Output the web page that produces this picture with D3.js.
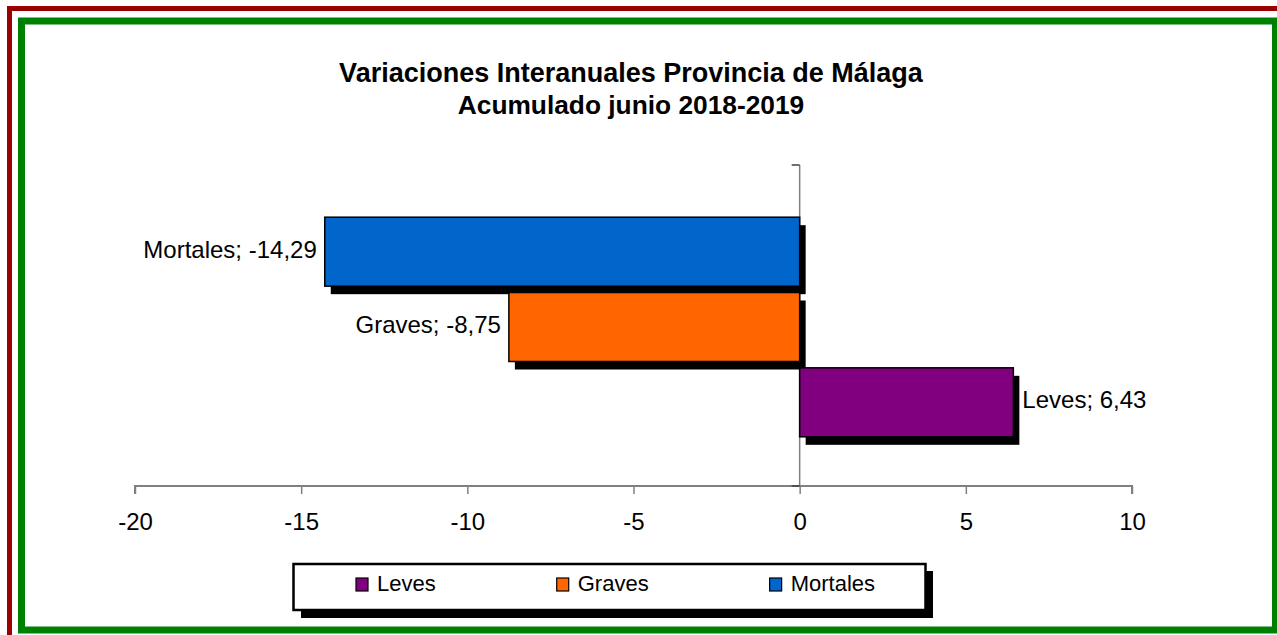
<!DOCTYPE html>
<html><head><meta charset="utf-8">
<script src="https://cdn.jsdelivr.net/npm/d3@7"></script>
<style>html,body{margin:0;padding:0;background:#fff;}svg{display:block;font-family:"Liberation Sans",Arial,sans-serif;}</style>
</head><body>
<script>
const series = ["Mortales", "Graves", "Leves"];
const values = [-14.29, -8.75, 6.43];
const colors = ["#0066CC", "#FF6600", "#800080"];
const legendOrder = ["Leves", "Graves", "Mortales"];
const tickValues = [-20, -15, -10, -5, 0, 5, 10];
const titleLines = ["Variaciones Interanuales Provincia de Málaga", "Acumulado junio 2018-2019"];

const W = 1277, H = 635;
const svg = d3.select("body").append("svg").attr("width", W).attr("height", H);

// borders
svg.append("rect").attr("x", 9.5).attr("y", 8.5).attr("width", 1400).attr("height", 800)
  .attr("fill", "none").attr("stroke", "#990000").attr("stroke-width", 5);
svg.append("rect").attr("x", 21.5).attr("y", 21).attr("width", 1254).attr("height", 609)
  .attr("fill", "none").attr("stroke", "#008000").attr("stroke-width", 7);

// title
svg.append("g").selectAll("text").data(titleLines).join("text")
  .attr("x", 631).attr("y", (d, i) => 82 + i * 32)
  .attr("text-anchor", "middle").attr("font-weight", "bold").attr("font-size", (d, i) => i === 0 ? 27 : 26.3)
  .attr("fill", "#000").text(d => d);

const plotTop = 165, plotBottom = 486;
const x = d3.scaleLinear().domain([-20, 10]).range([135, 1132]);
const y = d3.scaleBand().domain(series).range([plotTop + 1.5, plotBottom + 1.5]).paddingInner(0.084).paddingOuter(0.673);

// x axis
const xAxis = d3.axisBottom(x).tickValues(tickValues).tickSize(8).tickPadding(19).tickFormat(d => d3.format("d")(d).replace("−", "-"));
const gx = svg.append("g").attr("transform", `translate(0,${plotBottom})`).call(xAxis);
gx.select(".domain").attr("stroke", "#808080").attr("stroke-width", 2).attr("d", `M${x(-20)},8V0H${x(10)}V8`);
gx.selectAll(".tick line").attr("stroke", "#808080").attr("stroke-width", 1.5);
gx.selectAll(".tick text").attr("font-size", 24).attr("fill", "#000").attr("font-family", "Liberation Sans, Arial, sans-serif");

// y axis (at zero)
const gy = svg.append("g");
gy.append("line").attr("x1", x(0)).attr("x2", x(0)).attr("y1", plotTop).attr("y2", plotBottom)
  .attr("stroke", "#808080").attr("stroke-width", 1.5);
gy.selectAll("line.t").data([plotTop, plotBottom]).join("line").attr("class", "t")
  .attr("x1", x(0) - 8).attr("x2", x(0)).attr("y1", d => d).attr("y2", d => d)
  .attr("stroke", "#404040").attr("stroke-width", 1.5);

const data = series.map((s, i) => ({ s, v: values[i], c: colors[i] }));

// shadows
svg.append("g").selectAll("rect").data(data).join("rect")
  .attr("x", d => Math.min(x(0), x(d.v)) + 6)
  .attr("y", d => y(d.s) + 8)
  .attr("width", d => Math.abs(x(d.v) - x(0)))
  .attr("height", y.bandwidth())
  .attr("fill", "#000");
// bars
svg.append("g").selectAll("rect").data(data).join("rect")
  .attr("x", d => Math.min(x(0), x(d.v)))
  .attr("y", d => y(d.s))
  .attr("width", d => Math.abs(x(d.v) - x(0)))
  .attr("height", y.bandwidth())
  .attr("fill", d => d.c).attr("stroke", "#000").attr("stroke-width", 1.5);

// labels
const fmt = v => d3.format(".2f")(v).replace("−", "-").replace(".", ",");
svg.append("g").selectAll("text").data(data).join("text")
  .attr("x", d => d.v < 0 ? x(d.v) - 8 : x(d.v) + 9)
  .attr("y", d => y(d.s) + y.bandwidth() / 2 + 6)
  .attr("text-anchor", d => d.v < 0 ? "end" : "start")
  .attr("font-size", 24).attr("fill", "#000")
  .text(d => `${d.s}; ${fmt(d.v)}`);

// legend
const lg = svg.append("g");
lg.append("rect").attr("x", 301).attr("y", 571).attr("width", 632).attr("height", 47).attr("fill", "#000");
lg.append("rect").attr("x", 293.5).attr("y", 564).attr("width", 632).attr("height", 46)
  .attr("fill", "#fff").attr("stroke", "#000").attr("stroke-width", 2.5);
let cx = 356;
legendOrder.forEach(name => {
  const g = lg.append("g").attr("transform", `translate(${cx},578)`);
  g.append("rect").attr("width", 12).attr("height", 13)
    .attr("fill", colors[series.indexOf(name)]).attr("stroke", "#000").attr("stroke-width", 1.2);
  const t = g.append("text").attr("x", 21).attr("y", 13).attr("font-size", 22).attr("fill", "#000").text(name);
  cx += 21 + t.node().getComputedTextLength() + 121;
});
</script>
</body></html>
